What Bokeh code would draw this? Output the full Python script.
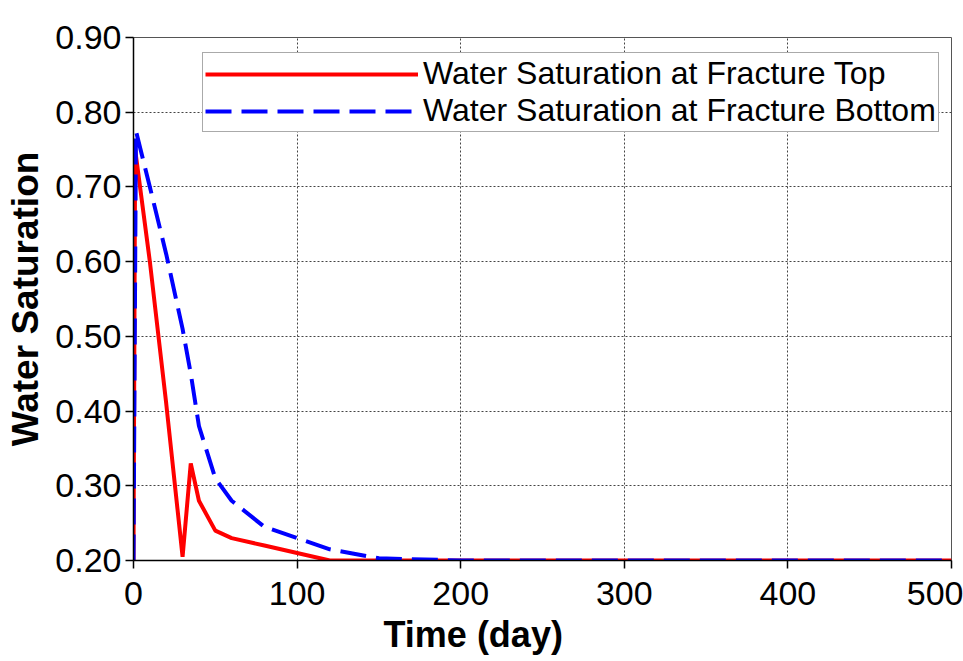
from bokeh.plotting import figure
from bokeh.models import (ColumnDataSource, FixedTicker, NumeralTickFormatter,
                          Range1d, Legend, LegendItem, Title)
from bokeh.embed import file_html
from bokeh.resources import INLINE

# Water saturation history at the fracture (time in days)
top_time = [0, 1, 10, 20, 30, 35, 40, 50, 60, 80, 100, 120, 150, 200, 300, 400, 500]
top_sw = [0.20, 0.75, 0.60, 0.41, 0.205, 0.33, 0.28, 0.24, 0.23, 0.22, 0.21, 0.20,
          0.20, 0.20, 0.20, 0.20, 0.20]

bottom_time = [0, 1.5, 10, 20, 30, 35, 40, 50, 60, 80, 100, 120, 150, 200, 300, 400, 500]
bottom_sw = [0.20, 0.775, 0.70, 0.61, 0.51, 0.45, 0.38, 0.31, 0.28, 0.245, 0.23, 0.215,
             0.203, 0.20, 0.20, 0.20, 0.20]

x_ticks = [0, 100, 200, 300, 400, 500]
y_ticks = [0.20, 0.30, 0.40, 0.50, 0.60, 0.70, 0.80, 0.90]

FONT = "Liberation Sans"

p = figure(width=963, height=661, output_backend="svg", toolbar_location=None,
           x_range=Range1d(0, 500), y_range=Range1d(0.20, 0.90),
           min_border_left=133, min_border_right=12, min_border_top=37,
           min_border_bottom=101)

src_top = ColumnDataSource(dict(t=top_time, sw=top_sw))
src_bot = ColumnDataSource(dict(t=bottom_time, sw=bottom_sw))

r_top = p.line("t", "sw", source=src_top, line_color="#FF0000", line_width=4)
r_bot = p.line("t", "sw", source=src_bot, line_color="#0000FF", line_width=4,
               line_dash="26 10")

p.outline_line_color = "#555555"
p.outline_line_width = 1

for g in (p.xgrid[0], p.ygrid[0]):
    g.grid_line_color = "#444444"
    g.grid_line_dash = "2 2"
    g.grid_line_width = 1

p.xaxis.ticker = FixedTicker(ticks=x_ticks)
p.yaxis.ticker = FixedTicker(ticks=y_ticks)
p.yaxis.formatter = NumeralTickFormatter(format="0.00")

for ax in (p.xaxis[0], p.yaxis[0]):
    ax.axis_line_color = "black"
    ax.axis_line_width = 1.5
    ax.major_tick_line_color = "black"
    ax.major_tick_line_width = 1.5
    ax.major_tick_in = 0
    ax.major_tick_out = 8
    ax.minor_tick_line_color = None
    ax.major_label_text_font = FONT
    ax.major_label_text_font_size = "34px"
    ax.major_label_text_color = "black"

p.xaxis.major_label_standoff = 13
p.yaxis.major_label_standoff = 4

p.yaxis.axis_label = "Water Saturation"
p.yaxis.axis_label_text_font = FONT
p.yaxis.axis_label_text_font_size = "37px"
p.yaxis.axis_label_text_font_style = "bold"
p.yaxis.axis_label_text_color = "black"
p.yaxis.axis_label_standoff = 6

# x title sits below the axis, left-aligned with an offset
p.add_layout(Title(text="Time (day)", align="left", offset=250, standoff=9,
                   text_font=FONT, text_font_size="36px", text_font_style="bold",
                   text_color="black"), "below")

legend = Legend(items=[
    LegendItem(label="Water Saturation at Fracture Top", renderers=[r_top]),
    LegendItem(label="Water Saturation at Fracture Bottom", renderers=[r_bot]),
], location=(69, 428))
legend.glyph_width = 213
legend.glyph_height = 36
legend.label_height = 36
legend.label_text_font = FONT
legend.label_text_font_size = "32px"
legend.label_text_color = "black"
legend.label_standoff = 5
legend.padding = 2
legend.spacing = 0
legend.margin = 0
legend.border_line_color = "#555555"
legend.border_line_width = 1
legend.background_fill_color = "white"
legend.background_fill_alpha = 1
p.add_layout(legend)

open("out.html", "w").write(file_html(p, INLINE))
